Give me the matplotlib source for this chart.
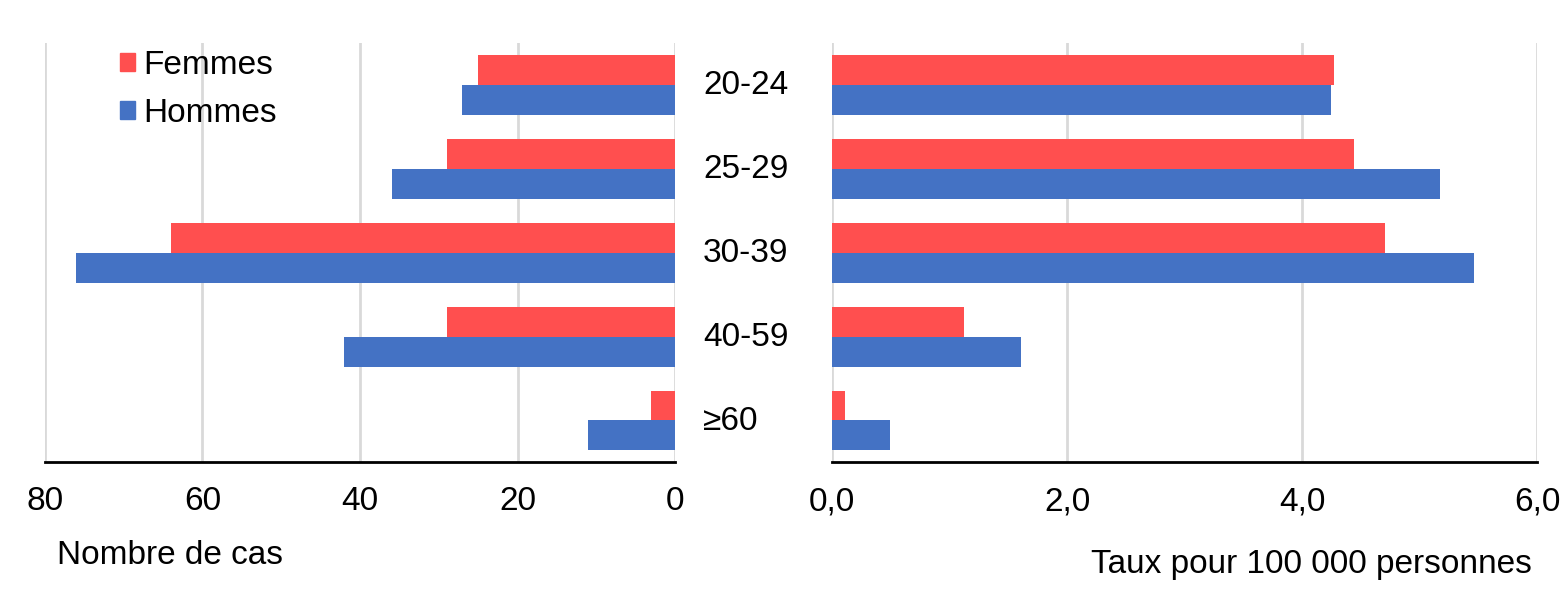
# Nombre de cas et taux par groupe d'age, femmes et hommes.

import matplotlib
matplotlib.use('Agg')
import matplotlib.pyplot as plt
from matplotlib.patches import Patch
from matplotlib.ticker import FuncFormatter
import matplotlib.transforms as mtransforms
import numpy as np

plt.rcParams['font.family'] = ['Liberation Sans', 'DejaVu Sans']

# Donnees
groupes = ['20-24', '25-29', '30-39', '40-59', '≥60']
cas_femmes = [25, 29, 64, 29, 3]
cas_hommes = [27, 36, 76, 42, 11]
taux_femmes = [4.27, 4.44, 4.71, 1.12, 0.11]
taux_hommes = [4.25, 5.17, 5.46, 1.61, 0.49]

rouge = '#FF4F4F'
bleu = '#4472C4'
gris = '#D9D9D9'
taille = 24

fig = plt.figure(figsize=(15.67, 6.01), dpi=100)
ax1 = fig.add_axes([0.0287, 0.2305, 0.4021, 0.6985])
ax2 = fig.add_axes([0.531, 0.2305, 0.4499, 0.6985])

y = np.arange(len(groupes))
h = 0.357

for ax, f, m in [(ax1, cas_femmes, cas_hommes), (ax2, taux_femmes, taux_hommes)]:
    ax.barh(y - h / 2, f, height=h, color=rouge, zorder=2)
    ax.barh(y + h / 2, m, height=h, color=bleu, zorder=2)
    ax.set_ylim(len(groupes) - 0.5, -0.5)
    ax.set_yticks([])
    for s in ['top', 'left', 'right']:
        ax.spines[s].set_visible(False)
    ax.spines['bottom'].set_linewidth(2)
    ax.spines['bottom'].set_color('black')
    ax.grid(axis='x', color=gris, linewidth=2, zorder=0)
    ax.tick_params(axis='x', length=0, pad=17, labelsize=taille)

ax1.set_xlim(80, 0)
ax1.set_xticks([80, 60, 40, 20, 0])
ax2.set_xlim(0, 6)
ax2.set_xticks([0, 2, 4, 6])
ax2.xaxis.set_major_formatter(FuncFormatter(lambda v, p: f'{v:.1f}'.replace('.', ',')))

# Etiquettes des groupes entre les deux panneaux
trans = mtransforms.blended_transform_factory(fig.transFigure, ax1.transData)
for i, g in enumerate(groupes):
    ax1.text(703 / 1567, y[i] + 0.01, g, transform=trans, ha='left', va='center',
             fontsize=taille, clip_on=False)

fig.text(57 / 1567, 1 - 555 / 601, 'Nombre de cas', ha='left', va='center', fontsize=taille)
fig.text(1532 / 1567, 1 - 565 / 601, 'Taux pour 100 000 personnes', ha='right', va='center',
         fontsize=taille)

handles = [Patch(color=rouge, label='Femmes'), Patch(color=bleu, label='Hommes')]
fig.legend(handles=handles, loc='upper left', bbox_to_anchor=(90 / 1567, 1 - 20 / 601),
           frameon=False, fontsize=taille, handlelength=0.45, handleheight=0.45,
           handletextpad=0.25, labelspacing=0.5)

plt.savefig('out.png', dpi=100)
